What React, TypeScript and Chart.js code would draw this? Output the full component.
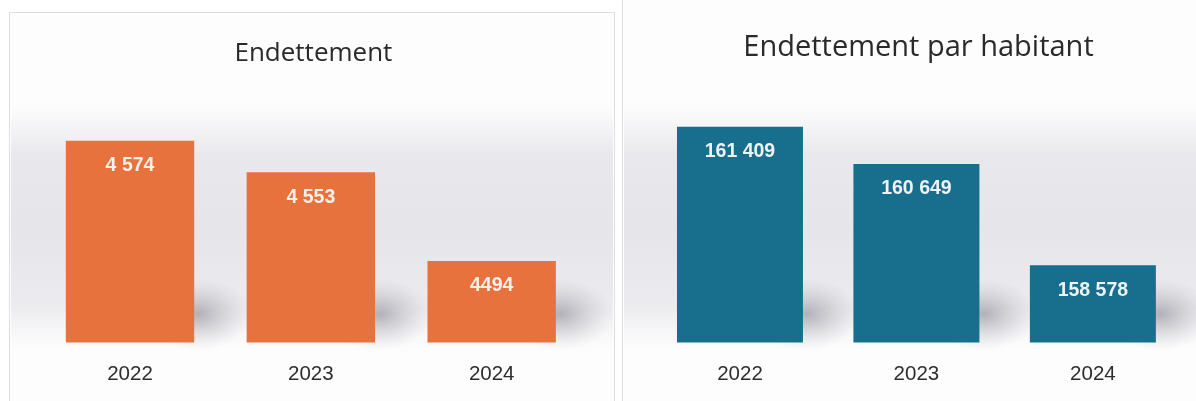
import React, { useEffect, useRef } from "react";
import { Chart, registerables } from "chart.js";

Chart.register(...registerables);

// ---- Data ----
const years = ["2022", "2023", "2024"];
const debtValues = [4574, 4553, 4494];
const debtLabels = ["4 574", "4 553", "4494"];
const perCapitaValues = [161409, 160649, 158578];
const perCapitaLabels = ["161 409", "160 649", "158 578"];
const debtTitle = "Endettement";
const perCapitaTitle = "Endettement par habitant";

type PanelProps = {
  values: number[];
  labels: string[];
  title: string;
  color: string;
  labelColor: string;
  yMin: number;
  yMax: number;
  padLeft: number;
  padRight: number;
  padTop: number;
  titleX: number;
  titleBaseline: number;
  titleSize: number;
  left: number;
  top: number;
  width: number;
  height: number;
  barPct: number;
};

function Panel(p: PanelProps) {
  const ref = useRef<HTMLCanvasElement | null>(null);
  useEffect(() => {
    if (!ref.current) return;
    const bgPlugin = {
      id: "bgBand",
      beforeDraw(chart: any) {
        const { ctx, width, height, chartArea } = chart;
        ctx.save();
        ctx.fillStyle = "#fdfdfd";
        ctx.fillRect(0, 0, width, height);
        const top = chartArea.top;
        const bottom = chartArea.bottom;
        const g = ctx.createLinearGradient(0, top + 5, 0, bottom + 10);
        g.addColorStop(0, "rgba(228,228,233,0)");
        g.addColorStop(0.2, "rgba(228,228,233,0.8)");
        g.addColorStop(0.5, "rgba(229,229,234,1)");
        g.addColorStop(0.82, "rgba(230,230,235,0.75)");
        g.addColorStop(1, "rgba(240,240,244,0)");
        ctx.fillStyle = g;
        ctx.fillRect(0, top + 5, width, bottom - top + 5);
        ctx.restore();

        const meta = chart.getDatasetMeta(0);
        const xs = chart.scales.x;
        const bottomPx = chartArea.bottom;
        const band = (chartArea.right - chartArea.left) / meta.data.length;
        meta.data.forEach((_b: any, i: number) => {
          const cx = xs.getPixelForValue(i);
          const right = cx + (band * p.barPct) / 2;
          ctx.save();
          ctx.translate(right + 4, bottomPx - 28);
          ctx.scale(1.5, 1);
          const rg = ctx.createRadialGradient(0, 0, 0, 0, 0, 36);
          rg.addColorStop(0, "rgba(90,90,102,0.42)");
          rg.addColorStop(0.45, "rgba(110,110,122,0.22)");
          rg.addColorStop(1, "rgba(150,150,160,0)");
          ctx.fillStyle = rg;
          ctx.beginPath();
          ctx.arc(0, 0, 36, 0, Math.PI * 2);
          ctx.fill();
          ctx.restore();
        });
      },
    };
    const labelPlugin = {
      id: "barLabels",
      afterDatasetsDraw(chart: any) {
        const { ctx } = chart;
        const meta = chart.getDatasetMeta(0);
        ctx.save();
        ctx.fillStyle = p.labelColor;
        ctx.font = "bold 19.5px 'Liberation Sans', Arial, sans-serif";
        ctx.textAlign = "center";
        ctx.textBaseline = "middle";
        meta.data.forEach((bar: any, i: number) => {
          ctx.fillText(p.labels[i], bar.x, bar.y + 25);
        });
        ctx.restore();
      },
      afterDraw(chart: any) {
        const { ctx } = chart;
        ctx.save();
        ctx.fillStyle = "#2a2a2a";
        ctx.font = `${p.titleSize}px 'Open Sans', sans-serif`;
        ctx.textAlign = "center";
        ctx.textBaseline = "alphabetic";
        ctx.fillText(p.title, p.titleX, p.titleBaseline);
        ctx.restore();
      },
    };
    const chart = new Chart(ref.current, {
      type: "bar",
      data: {
        labels: years,
        datasets: [
          {
            data: p.values,
            backgroundColor: p.color,
            borderWidth: 0,
            barPercentage: p.barPct,
            categoryPercentage: 1,
          },
        ],
      },
      options: {
        animation: false,
        responsive: false,
        maintainAspectRatio: false,
        layout: {
          padding: { left: p.padLeft, right: p.padRight, top: p.padTop, bottom: 15 },
        },
        plugins: {
          legend: { display: false },
          tooltip: { enabled: false },
          title: { display: false },
        },
        scales: {
          x: {
            grid: { display: false, drawTicks: false },
            border: { display: false },
            ticks: {
              padding: 20,
              color: "#2e2e2e",
              font: { family: "'Liberation Sans', Arial, sans-serif", size: 20.5 },
            },
          },
          y: { display: false, min: p.yMin, max: p.yMax },
        },
      },
      plugins: [bgPlugin, labelPlugin],
    });
    return () => chart.destroy();
  }, []);
  return (
    <canvas
      ref={ref}
      width={p.width}
      height={p.height}
      style={{ position: "absolute", left: p.left, top: p.top, width: p.width, height: p.height }}
    />
  );
}

export default function App() {
  return (
    <div
      style={{
        position: "fixed",
        left: 0,
        top: 0,
        width: 1196,
        height: 401,
        overflow: "hidden",
        background: "#ffffff",
      }}
    >
      <Panel
        values={debtValues}
        labels={debtLabels}
        title={debtTitle}
        color="#E8723E"
        labelColor="#f8f1e8"
        yMin={4440}
        yMax={4601}
        padLeft={28.6}
        padRight={30.9}
        padTop={86}
        titleX={302.4}
        titleBaseline={47}
        titleSize={26}
        left={11}
        top={14}
        width={602}
        height={408}
        barPct={0.71}
      />
      <Panel
        values={perCapitaValues}
        labels={perCapitaLabels}
        title={perCapitaTitle}
        color="#176F8D"
        labelColor="#eef3f5"
        yMin={157000}
        yMax={161955}
        padLeft={27.75}
        padRight={14.9}
        padTop={100}
        titleX={294.5}
        titleBaseline={56}
        titleSize={29}
        left={624}
        top={0}
        width={572}
        height={422}
        barPct={0.714}
      />
      <div
        style={{
          position: "absolute",
          left: 9,
          top: 12,
          width: 606,
          height: 400,
          border: "1px solid #dcdcdc",
          boxSizing: "border-box",
        }}
      />
      <div
        style={{
          position: "absolute",
          left: 622,
          top: -2,
          width: 580,
          height: 410,
          border: "1px solid #dcdcdc",
          boxSizing: "border-box",
        }}
      />
    </div>
  );
}
